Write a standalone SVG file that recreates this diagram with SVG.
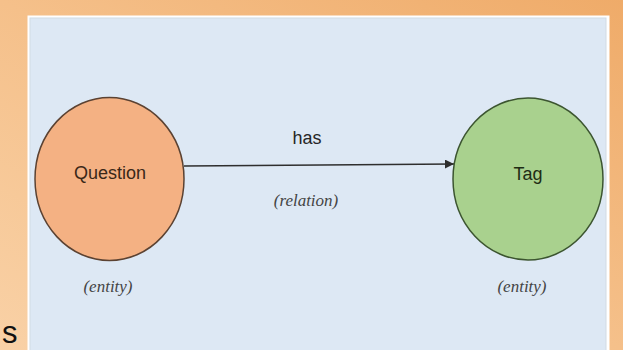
<svg xmlns="http://www.w3.org/2000/svg" width="623" height="350" viewBox="0 0 623 350">
  <defs>
    <linearGradient id="bg" x1="0" y1="1" x2="1" y2="0">
      <stop offset="0" stop-color="#f9d1a6"/>
      <stop offset="0.5" stop-color="#f5c08a"/>
      <stop offset="1" stop-color="#efab69"/>
    </linearGradient>
    <marker id="arrow" viewBox="0 0 10 10" refX="10" refY="5" markerWidth="6" markerHeight="6" orient="auto" markerUnits="strokeWidth">
      <path d="M0,0 L10,5 L0,10 z" fill="#2e2e2e"/>
    </marker>
    <style>
      .node { stroke-width: 1.5; }
      .label { font-family: "Liberation Sans", Arial, sans-serif; font-size: 18px; text-anchor: middle; }
      .note { font-family: "Liberation Serif", "Times New Roman", serif; font-style: italic; font-size: 17px; fill: #444444; text-anchor: middle; }
      .edge { stroke: #2e2e2e; stroke-width: 1.5; fill: none; }
    </style>
  </defs>

  <!-- slide background -->
  <rect x="0" y="0" width="623" height="350" fill="url(#bg)"/>
  <text x="2" y="343" font-family="Liberation Sans, Arial, sans-serif" font-size="31" fill="#111111">s</text>

  <!-- picture frame and canvas -->
  <rect x="27.5" y="15.5" width="582" height="340" fill="#ffffff"/>
  <rect x="30" y="18" width="576" height="340" fill="#dde8f4" stroke="#d2dbe3" stroke-width="1"/>

  <!-- connectors -->
  <g id="connectors">
    <line class="edge" x1="184" y1="166" x2="454" y2="164" marker-end="url(#arrow)"/>
    <text class="label" x="307" y="144" fill="#262626">has</text>
    <text class="note" x="306" y="206">(relation)</text>
  </g>

  <g id="question">
    <ellipse class="node" cx="109.5" cy="179" rx="74.5" ry="81.5" fill="#f4b183" stroke="#5b4232"/>
    <text class="label" x="110" y="179" fill="#3a2818">Question</text>
    <text class="note" x="108" y="292">(entity)</text>
  </g>

  <g id="tag">
    <ellipse class="node" cx="528" cy="179" rx="75" ry="81" fill="#a9d18e" stroke="#3c5530"/>
    <text class="label" x="528" y="180" fill="#1e2c14">Tag</text>
    <text class="note" x="522" y="292">(entity)</text>
  </g>
</svg>
